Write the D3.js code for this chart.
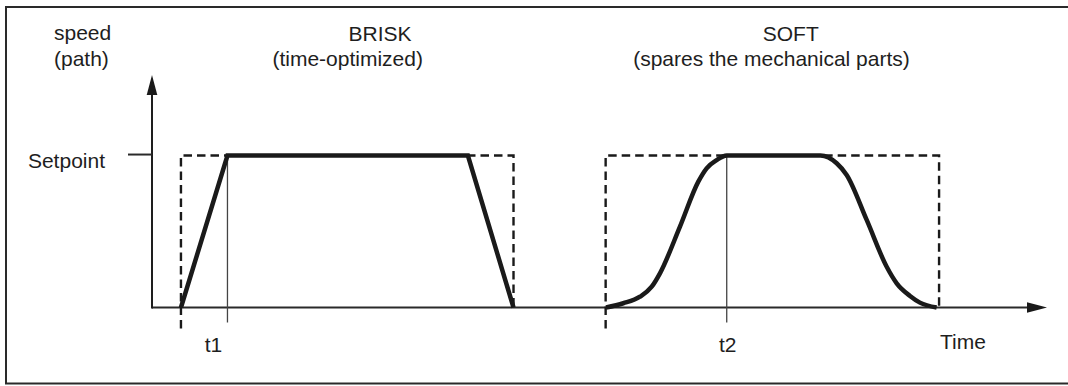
<!DOCTYPE html>
<html>
<head>
<meta charset="utf-8">
<script src="https://cdn.jsdelivr.net/npm/d3@7"></script>
<style>
  html, body { margin: 0; padding: 0; background: #fff; }
  svg { display: block; }
  text { font-family: "Liberation Sans", Arial, Helvetica, sans-serif; font-size: 21px; fill: #1e1e1e; }
</style>
</head>
<body>
<svg id="chart" width="1068" height="386"></svg>
<script>
// Speed profiles along the path: time in ms, speed as fraction of setpoint
const briskProfile = [
  { t: 33, v: 0 }, { t: 86, v: 1 }, { t: 360, v: 1 }, { t: 412, v: 0 }
];
const briskWindow = [33, 412];

const softProfile = [
  { t: 517.4, v: 0 }, { t: 537.1, v: 0.028 }, { t: 556.1, v: 0.071 },
  { t: 569.5, v: 0.137 }, { t: 578.9, v: 0.225 }, { t: 601.7, v: 0.532 },
  { t: 622.6, v: 0.828 }, { t: 632.1, v: 0.916 }, { t: 643.5, v: 0.970 },
  { t: 655.0, v: 1 }, { t: 761.8, v: 1 }, { t: 780.3, v: 0.949 },
  { t: 791.7, v: 0.872 }, { t: 814.5, v: 0.576 }, { t: 837.3, v: 0.268 },
  { t: 848.7, v: 0.159 }, { t: 863.9, v: 0.076 }, { t: 875.2, v: 0.032 },
  { t: 894.2, v: 0 }
];
const softWindow = [517, 897];

const timeMarkers = [{ label: "t1", t: 86 }, { label: "t2", t: 655 }];
const setpointValue = 1;
const timeMax = 1020;
const speedMax = 1.53;

const titles = [
  { text: "BRISK", t: 260, line: 0 },
  { text: "(time-optimized)", t: 223, line: 1 },
  { text: "SOFT", t: 728, line: 0 },
  { text: "(spares the mechanical parts)", t: 706, line: 1 }
];

const svg = d3.select("#chart");
const ink = "#1a1a1a";

// outer frame
svg.append("rect")
  .attr("x", 6).attr("y", 7).attr("width", 1070).attr("height", 376.5)
  .attr("fill", "none").attr("stroke", "#2a2a2a").attr("stroke-width", 2);

const x = d3.scaleLinear().domain([0, timeMax]).range([152, 1047]);
const y = d3.scaleLinear().domain([0, speedMax]).range([307.5, 75]);

const arrowLen = 20, arrowHalf = 5.3;

// time axis with arrow
svg.append("line")
  .attr("x1", x(0)).attr("x2", x(timeMax) - arrowLen + 2)
  .attr("y1", y(0)).attr("y2", y(0))
  .attr("stroke", "#2a2a2a").attr("stroke-width", 2);
svg.append("path")
  .attr("d", `M${x(timeMax)},${y(0)} L${x(timeMax) - arrowLen},${y(0) - arrowHalf} L${x(timeMax) - arrowLen},${y(0) + arrowHalf}Z`)
  .attr("fill", ink);

// speed axis with arrow
svg.append("line")
  .attr("x1", x(0)).attr("x2", x(0))
  .attr("y1", y(0) + 1).attr("y2", y(speedMax) + arrowLen - 2)
  .attr("stroke", "#1e1e1e").attr("stroke-width", 2);
svg.append("path")
  .attr("d", `M${x(0)},${y(speedMax)} L${x(0) - arrowHalf},${y(speedMax) + arrowLen} L${x(0) + arrowHalf},${y(speedMax) + arrowLen}Z`)
  .attr("fill", ink);

// setpoint tick via axis generator
const yAxis = d3.axisLeft(y)
  .tickValues([setpointValue])
  .tickFormat(() => "Setpoint")
  .tickSize(24)
  .tickPadding(23);
const gy = svg.append("g").attr("transform", `translate(${x(0)},0)`).call(yAxis);
gy.select(".domain").remove();
gy.selectAll(".tick line").attr("stroke", "#2a2a2a").attr("stroke-width", 2)
  .attr("transform", "translate(0,-1.5)");
gy.selectAll(".tick text")
  .attr("font-size", null).attr("font-family", null)
  .attr("fill", "#1e1e1e").attr("dy", "0.55em");

// dashed reference windows
const below = 21;
function windowPath(w) {
  return `M${x(w[0])},${y(0) + below} V${y(setpointValue)} H${x(w[1])} V${y(0)}`;
}
svg.selectAll("path.window")
  .data([briskWindow, softWindow])
  .join("path")
  .attr("class", "window")
  .attr("d", windowPath)
  .attr("fill", "none").attr("stroke", "#1a1a1a")
  .attr("stroke-width", 2.4).attr("stroke-dasharray", "8.5,5");

// time markers
svg.selectAll("line.marker")
  .data(timeMarkers)
  .join("line")
  .attr("class", "marker")
  .attr("x1", d => x(d.t)).attr("x2", d => x(d.t))
  .attr("y1", y(setpointValue)).attr("y2", y(0) + 15)
  .attr("stroke", "#444").attr("stroke-width", 1.3);
svg.selectAll("text.marker")
  .data(timeMarkers)
  .join("text")
  .attr("class", "marker")
  .attr("x", (d, i) => x(d.t) + (i === 0 ? -14 : 1))
  .attr("y", 352)
  .attr("text-anchor", "middle")
  .text(d => d.label);

// profiles
const line = d3.line().x(d => x(d.t)).y(d => y(d.v));
svg.append("path")
  .attr("d", line(briskProfile))
  .attr("fill", "none").attr("stroke", ink)
  .attr("stroke-width", 4.5).attr("stroke-linejoin", "miter");
svg.append("path")
  .attr("d", line.curve(d3.curveMonotoneX)(softProfile))
  .attr("fill", "none").attr("stroke", ink)
  .attr("stroke-width", 4.5).attr("stroke-linejoin", "round");

// labels
svg.append("text").attr("x", 54).attr("y", 40).text("speed");
svg.append("text").attr("x", 54).attr("y", 66).text("(path)");
svg.append("text").attr("x", 940).attr("y", 349).text("Time");

svg.selectAll("text.title")
  .data(titles)
  .join("text")
  .attr("class", "title")
  .attr("x", d => x(d.t))
  .attr("y", d => d.line === 0 ? 41 : 66)
  .attr("text-anchor", "middle")
  .text(d => d.text);
</script>
</body>
</html>
